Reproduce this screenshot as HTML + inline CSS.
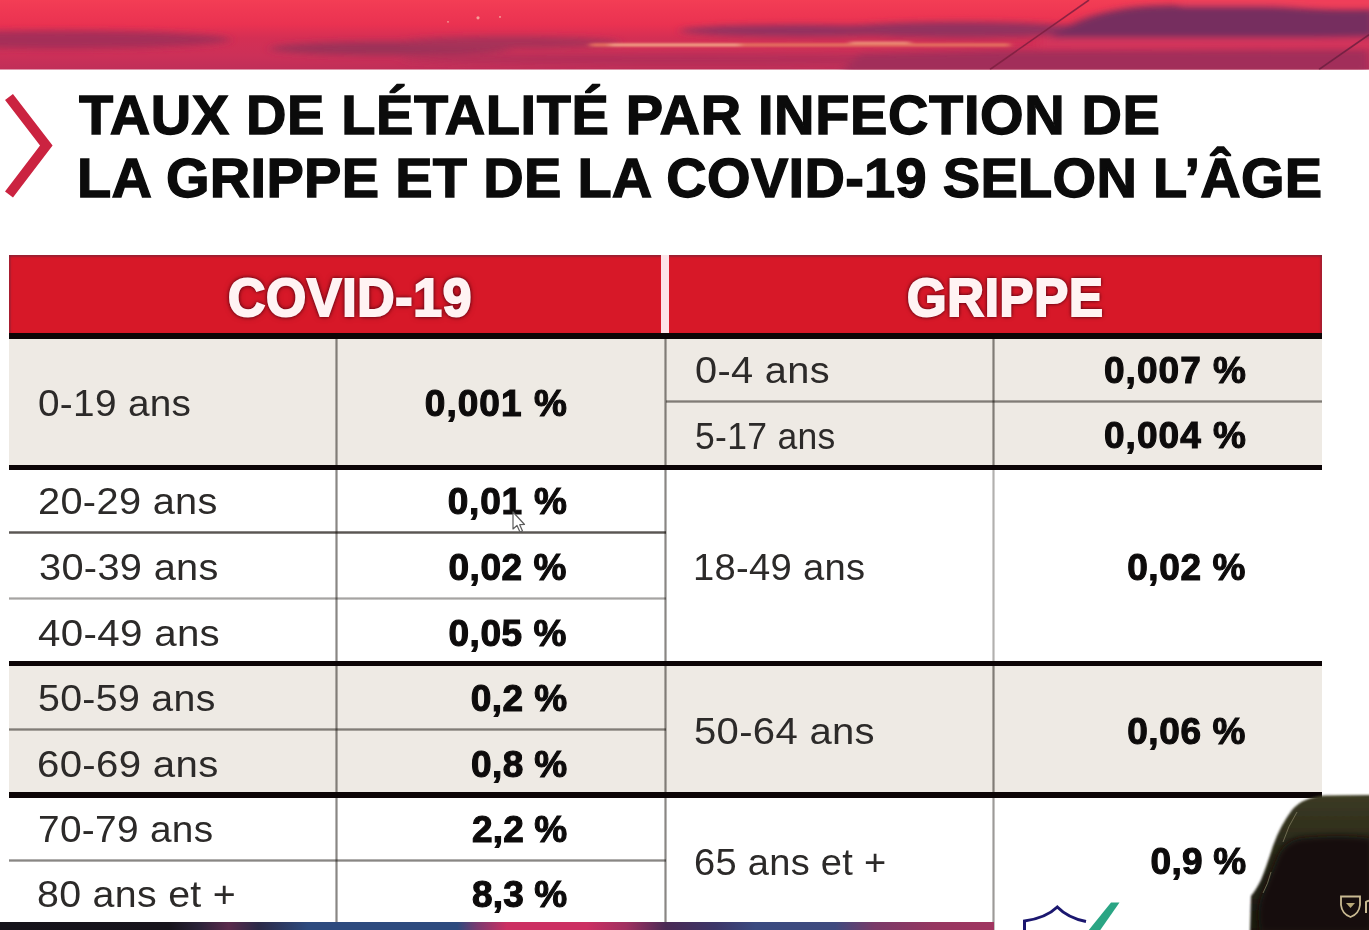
<!DOCTYPE html>
<html lang="fr">
<head>
<meta charset="utf-8">
<title>Taux de létalité</title>
<style>
html,body{margin:0;padding:0;}
body{width:1369px;height:930px;overflow:hidden;background:#fff;position:relative;font-family:"Liberation Sans",sans-serif;}
#banner{position:absolute;left:0;top:0;width:1369px;height:69.5px;display:block;}
#chev{position:absolute;left:0;top:85px;width:70px;height:125px;}
#wrap{position:absolute;left:0;top:0;width:1369px;height:930px;overflow:hidden;filter:blur(0.55px);}
.abs{position:absolute;}
.red{background:#d71828;box-shadow:inset 0 2px 1.5px rgba(110,40,60,.5),inset 2px 0 1.5px rgba(110,40,60,.4),inset -2px 0 1.5px rgba(110,40,60,.4);}
.blk{background:#0c0506;}
.grey{background:#eeeae4;}
.thin{height:3px;background:linear-gradient(180deg,rgba(20,15,10,var(--e,.25)),rgba(20,15,10,var(--a,.5)) 50%,rgba(20,15,10,var(--e,.25)));}
.vline{width:3px;background:linear-gradient(90deg,rgba(20,15,10,var(--e,.2)),rgba(20,15,10,var(--a,.5)) 50%,rgba(20,15,10,var(--e,.2)));}
.title{position:absolute;white-space:nowrap;font-weight:bold;font-size:56px;line-height:60px;height:60px;color:#0b0b0b;-webkit-text-stroke:1.3px #0b0b0b;}
.hd{position:absolute;transform-origin:0 0;white-space:nowrap;font-weight:bold;font-size:54px;line-height:60px;height:60px;color:#fff3f3;-webkit-text-stroke:2.2px #fff3f3;text-shadow:0 0 4px rgba(80,0,20,1),0 0 4px rgba(80,0,20,.9),0 0 6px rgba(80,0,20,.7);}
.lab{position:absolute;transform-origin:0 0;font-size:37px;line-height:44px;height:44px;color:#2c2a29;white-space:nowrap;}
.val{position:absolute;font-size:37px;line-height:44px;height:44px;color:#0d0b0b;font-weight:bold;white-space:nowrap;-webkit-text-stroke:1.1px #0d0b0b;}
</style>
</head>
<body>
<div id="wrap">
<svg id="banner" viewBox="0 0 1369 70" preserveAspectRatio="none">
<defs>
<linearGradient id="bg" x1="0" y1="0" x2="0" y2="1">
<stop offset="0" stop-color="#f33d55"/><stop offset="0.35" stop-color="#ea3251"/><stop offset="0.55" stop-color="#d42f54"/><stop offset="0.8" stop-color="#cc3058"/><stop offset="1" stop-color="#c02f58"/>
</linearGradient>
<filter id="bl" x="-5%" y="-50%" width="110%" height="200%"><feGaussianBlur stdDeviation="5 3"/></filter>
<filter id="bl2" x="-5%" y="-50%" width="110%" height="200%"><feGaussianBlur stdDeviation="3 1.2"/></filter>
<clipPath id="bc"><rect width="1369" height="70"/></clipPath>
</defs>
<rect width="1369" height="70" fill="url(#bg)"/>
<g clip-path="url(#bc)">
<g filter="url(#bl)">
<ellipse cx="60" cy="40" rx="170" ry="9" fill="#a52f58"/>
<ellipse cx="390" cy="49" rx="120" ry="7" fill="#9c3058"/>
<ellipse cx="510" cy="43" rx="110" ry="6" fill="#a83058"/>
<ellipse cx="800" cy="31" rx="120" ry="6" fill="#913060"/>
<ellipse cx="960" cy="30" rx="125" ry="8" fill="#92305e"/>
<ellipse cx="700" cy="60" rx="300" ry="6" fill="#b42f58"/>
<path d="M1050,38 Q1085,10 1150,6 Q1220,3 1290,7 Q1340,11 1375,9 L1375,37 Q1200,41 1050,38 Z" fill="#762f5e"/>
<path d="M860,54 L1000,51 L1369,50 L1369,74 L840,74 Z" fill="#a22f5a"/>
<rect x="1040" y="38" width="340" height="10" fill="#d4355c"/>
<rect x="1180" y="-4" width="200" height="10" fill="#f0405a"/>
</g>
<g filter="url(#bl2)">
<rect x="590" y="43.5" width="420" height="3.5" fill="#e4705f"/>
<rect x="610" y="44" width="130" height="2.5" fill="#f4a58a"/>
<rect x="850" y="42" width="60" height="2" fill="#f09a80"/>
</g>
<path d="M1089,0 L990,70" stroke="#7c1f40" stroke-width="1.6" fill="none" opacity="0.85"/>
<path d="M1369,35 L1319,70" stroke="#6c1f40" stroke-width="1.6" fill="none" opacity="0.85"/>
<circle cx="478" cy="18" r="1.6" fill="#f6a09a"/><circle cx="500" cy="17" r="1" fill="#f6a09a"/><circle cx="448" cy="22" r="0.9" fill="#f6a09a"/>
</g>
</svg>

<svg id="chev" viewBox="0 0 70 125"><polyline points="9,12 46.3,60.5 9,109.5" fill="none" stroke="#cb2340" stroke-width="10" stroke-linejoin="miter" stroke-miterlimit="10"/></svg>

<!-- table backgrounds -->
<div class="abs red" style="left:8.5px;top:255px;width:1313px;height:79px;"></div>
<div class="abs" style="left:661px;top:255px;width:8px;height:78px;background:#fde3e8;"></div>
<div class="abs grey" style="left:8.5px;top:338px;width:1313px;height:128px;"></div>
<div class="abs grey" style="left:8.5px;top:665px;width:1313px;height:129px;"></div>

<!-- thin lines -->
<div class="abs thin" style="left:666px;top:400px;width:655.5px;"></div>
<div class="abs thin" style="left:8.5px;top:531px;width:657px;--a:.7;--e:.42;"></div>
<div class="abs thin" style="left:8.5px;top:597px;width:657px;--a:.38;--e:.16;"></div>
<div class="abs thin" style="left:8.5px;top:728px;width:657px;"></div>
<div class="abs thin" style="left:8.5px;top:859px;width:657px;"></div>

<!-- vertical lines -->
<div class="abs vline" style="left:335px;top:338px;height:584px;"></div>
<div class="abs vline" style="left:664px;top:338px;height:584px;"></div>
<div class="abs vline" style="left:992px;top:338px;height:128px;"></div>
<div class="abs vline" style="left:992px;top:466px;height:198px;--a:.33;--e:.12;"></div>
<div class="abs vline" style="left:992px;top:664px;height:130px;"></div>
<div class="abs vline" style="left:992px;top:794px;height:136px;--a:.42;--e:.16;"></div>

<!-- thick lines -->
<div class="abs blk" style="left:8.5px;top:333px;width:1313px;height:5.6px;"></div>
<div class="abs blk" style="left:8.5px;top:464.5px;width:1313px;height:5.6px;"></div>
<div class="abs blk" style="left:8.5px;top:660.9px;width:1313px;height:5.6px;"></div>
<div class="abs blk" style="left:8.5px;top:792.1px;width:1313px;height:5.6px;"></div>

<div class="title" id="t1" style="left:79.00px;top:84.60px;letter-spacing:0.627px;">TAUX DE LÉTALITÉ PAR INFECTION DE</div>
<div class="title" id="t2" style="left:77.00px;top:147.60px;letter-spacing:0.288px;">LA GRIPPE ET DE LA COVID-19 SELON L’ÂGE</div>
<div class="hd" id="h1" style="left:227.50px;top:267.49px;letter-spacing:0.800px;transform:scaleX(0.9559);">COVID-19</div>
<div class="hd" id="h2" style="left:907.00px;top:267.49px;letter-spacing:0.800px;transform:scaleX(0.9410);">GRIPPE</div>
<div class="lab" id="l1" style="left:37.80px;top:382.18px;letter-spacing:0.300px;transform:scaleX(1.0473);">0-19 ans</div>
<div class="lab" id="l2" style="left:38.40px;top:479.98px;letter-spacing:0.300px;transform:scaleX(1.0747);">20-29 ans</div>
<div class="lab" id="l3" style="left:39.40px;top:545.68px;letter-spacing:0.300px;transform:scaleX(1.0743);">30-39 ans</div>
<div class="lab" id="l4" style="left:38.20px;top:611.68px;letter-spacing:0.300px;transform:scaleX(1.0885);">40-49 ans</div>
<div class="lab" id="l5" style="left:38.40px;top:676.98px;letter-spacing:0.300px;transform:scaleX(1.0617);">50-59 ans</div>
<div class="lab" id="l6" style="left:37.20px;top:742.58px;letter-spacing:0.300px;transform:scaleX(1.0857);">60-69 ans</div>
<div class="lab" id="l7" style="left:37.60px;top:807.98px;letter-spacing:0.300px;transform:scaleX(1.0489);">70-79 ans</div>
<div class="lab" id="l8" style="left:37.20px;top:873.48px;letter-spacing:0.300px;transform:scaleX(1.0625);">80 ans et +</div>
<div class="lab" id="g1" style="left:695.40px;top:349.48px;letter-spacing:0.300px;transform:scaleX(1.0746);">0-4 ans</div>
<div class="lab" id="g2" style="left:695.40px;top:414.58px;letter-spacing:0.300px;transform:scaleX(0.9600);">5-17 ans</div>
<div class="lab" id="g3" style="left:693.20px;top:546.18px;letter-spacing:0.300px;transform:scaleX(1.0310);">18-49 ans</div>
<div class="lab" id="g4" style="left:694.20px;top:709.88px;letter-spacing:0.300px;transform:scaleX(1.0817);">50-64 ans</div>
<div class="lab" id="g5" style="left:694.20px;top:840.68px;letter-spacing:0.300px;transform:scaleX(1.0273);">65 ans et +</div>
<div class="val" id="v1" style="left:424.80px;top:381.78px;letter-spacing:1.035px;">0,001 %</div>
<div class="val" id="v2" style="left:447.70px;top:479.98px;letter-spacing:0.800px;">0,01 %</div>
<div class="val" id="v3" style="left:448.40px;top:545.68px;letter-spacing:0.580px;">0,02 %</div>
<div class="val" id="v4" style="left:448.40px;top:611.68px;letter-spacing:0.580px;">0,05 %</div>
<div class="val" id="v5" style="left:470.80px;top:676.98px;letter-spacing:0.425px;">0,2 %</div>
<div class="val" id="v6" style="left:471.00px;top:742.58px;letter-spacing:0.400px;">0,8 %</div>
<div class="val" id="v7" style="left:472.00px;top:807.98px;letter-spacing:0.150px;">2,2 %</div>
<div class="val" id="v8" style="left:472.00px;top:873.48px;letter-spacing:0.150px;">8,3 %</div>
<div class="val" id="w1" style="left:1104.00px;top:349.48px;letter-spacing:1.034px;">0,007 %</div>
<div class="val" id="w2" style="left:1104.00px;top:414.48px;letter-spacing:1.034px;">0,004 %</div>
<div class="val" id="w3" style="left:1127.20px;top:545.88px;letter-spacing:0.600px;">0,02 %</div>
<div class="val" id="w4" style="left:1127.20px;top:709.98px;letter-spacing:0.600px;">0,06 %</div>
<div class="val" id="w5" style="left:1150.60px;top:840.48px;letter-spacing:0.250px;">0,9 %</div>

<!-- bottom strip -->
<div class="abs" style="left:0;top:921.5px;width:994px;height:9px;background:linear-gradient(90deg,#15131a 0%,#17141c 17%,#2a2238 20%,#5a2a4c 23%,#2c2a48 26%,#2d4a7e 31%,#2d4a7e 46%,#7a3a70 48%,#cc2f62 51%,#cc2f62 59%,#a03060 63%,#4a2a55 67%,#3c3668 72%,#3a4a80 76%,#3f4a7e 84%,#7a3a68 88%,#963660 94%,#a03560 100%);"></div>

<!-- mouse cursor -->
<svg class="abs" style="left:510px;top:510px;width:18px;height:26px;" viewBox="0 0 18 26"><path d="M3,2 L3,19 L7,15.5 L10,22 L12.5,21 L9.7,14.7 L14.5,14.5 Z" fill="#fff" stroke="#5c5c5c" stroke-width="1.2" stroke-linejoin="round"/></svg>

<!-- logo fragment -->
<svg class="abs" style="left:1010px;top:895px;width:130px;height:35px;" viewBox="1010 895 130 35">
<path d="M1024.5,931 L1024.5,921 Q1046,918 1057.3,907 Q1068,918 1086,921.5" fill="none" stroke="#1b176f" stroke-width="3" stroke-linejoin="miter"/>
<path d="M1111,902.5 L1119.5,902.5 L1099.6,931 L1088,931 Z" fill="#2aa584"/>
<circle cx="1186.6" cy="930.3" r="1.8" fill="#1b176f"/>
</svg>

<!-- chair -->
<svg class="abs" style="left:1240px;top:785px;width:129px;height:145px;" viewBox="1240 785 129 145">
<defs>
<linearGradient id="ch" x1="0" y1="0" x2="0" y2="1"><stop offset="0" stop-color="#3c3b24"/><stop offset="0.35" stop-color="#2c2b1a"/><stop offset="1" stop-color="#1a190f"/></linearGradient>
<filter id="cb" x="-20%" y="-20%" width="140%" height="140%"><feGaussianBlur stdDeviation="1.2"/></filter>
<filter id="cb2" x="-20%" y="-20%" width="140%" height="140%"><feGaussianBlur stdDeviation="3"/></filter>
</defs>
<path filter="url(#cb)" d="M1372,795 L1325,795.5 Q1303,797 1292,810 Q1280,826 1273,846 Q1266,868 1261,880 Q1256,890 1251,896 L1250,932 L1372,932 Z" fill="url(#ch)"/>
<path filter="url(#cb2)" d="M1372,838 Q1340,834 1300,838 Q1283,842 1277,858 L1262,895 Q1256,910 1260,932 L1372,932 Z" fill="#12110a"/>
<path d="M1297,812 Q1288,826 1283,842 M1271,872 Q1268,884 1263,893" fill="none" stroke="#8a8668" stroke-width="1" opacity="0.7"/>
<path d="M1341,896.5 L1360,896.5 L1360,905 Q1359,914 1350.5,917 Q1342,914 1341,905 Z" fill="none" stroke="#c9ba92" stroke-width="1.8"/>
<path d="M1346,903 L1355,903 L1350.5,908 Z" fill="#b8a878"/>
<path d="M1366,913 L1366,902 Q1368,900 1371,901" fill="none" stroke="#c9ba92" stroke-width="2"/>
</svg>

</div>
</body>
</html>
